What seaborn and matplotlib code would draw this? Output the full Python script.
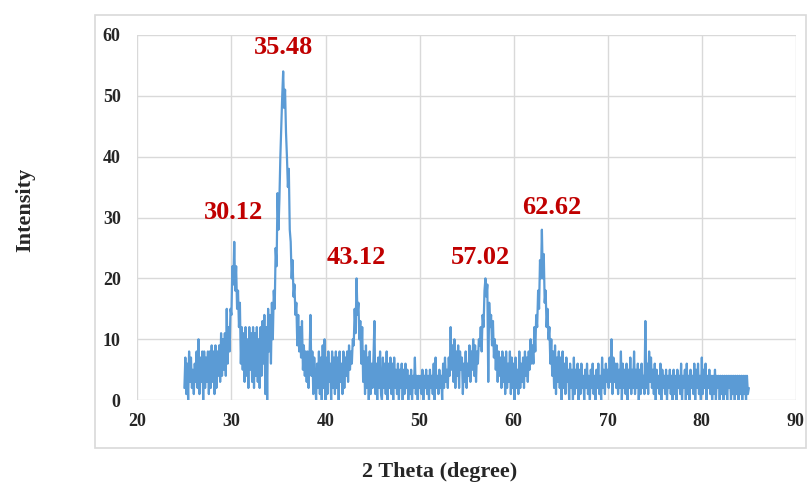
import numpy as np
import matplotlib
matplotlib.use("Agg")
import matplotlib.pyplot as plt
import seaborn as sns
from matplotlib.patches import Rectangle

# 2-theta sampling grid (degrees) and intensities
theta_start, theta_step, n_points = 25.0, 0.1, 601
intensity = [
    2, 7, 1, 6, 0, 8, 3, 7, 2, 5,          # 25
    1, 6, 3, 8, 2, 10, 1, 7, 3, 8,         # 26
    0, 8, 2, 7, 3, 8, 1, 8, 2, 9,          # 27
    3, 8, 1, 9, 2, 8, 4, 9, 3, 11,         # 28
    4, 10, 5, 11, 4, 15, 6, 12, 8, 15,     # 29
    14, 22, 19, 26, 18, 22, 15, 18, 12, 16,  # 30
    6, 12, 5, 11, 3, 12, 4, 10, 2, 12,     # 31
    5, 11, 3, 12, 2, 11, 4, 12, 3, 10,     # 32
    2, 12, 4, 13, 6, 14, 1, 12, 0, 15,     # 33
    8, 14, 6, 16, 10, 18, 15, 25, 22, 34,  # 34
    28, 33, 40, 45, 50, 54, 48, 51, 44, 40,  # 35
    35, 38, 28, 26, 20, 23, 17, 19, 14, 16,  # 36
    9, 14, 8, 12, 7, 13, 5, 9, 4, 8,       # 37
    3, 8, 2, 7, 14, 4, 8, 1, 7, 3,         # 38
    0, 6, 2, 8, 1, 7, 0, 9, 2, 10,         # 39
    0, 7, 1, 8, 3, 6, 0, 8, 2, 7,          # 40
    1, 8, 2, 7, 0, 8, 3, 6, 1, 8,          # 41
    2, 7, 4, 8, 3, 9, 5, 8, 6, 10,         # 42
    9, 15, 11, 20, 14, 16, 10, 13, 6, 12,  # 43
    3, 8, 1, 9, 2, 7, 0, 8, 1, 6,          # 44
    2, 7, 13, 1, 6, 0, 7, 2, 8, 1,         # 45
    0, 7, 2, 6, 1, 8, 0, 6, 2, 7,          # 46
    1, 6, 0, 7, 2, 5, 1, 6, 0, 5,          # 47
    2, 6, 0, 5, 1, 6, 2, 5, 0, 4,          # 48
    1, 5, 0, 4, 2, 7, 1, 4, 0, 4,          # 49
    2, 4, 1, 5, 0, 4, 2, 5, 1, 4,          # 50
    0, 5, 2, 4, 1, 6, 0, 7, 2, 4,          # 51
    1, 5, 2, 4, 0, 6, 2, 7, 3, 5,          # 52
    2, 7, 4, 12, 5, 9, 3, 10, 2, 8,        # 53
    4, 9, 2, 8, 5, 7, 1, 6, 3, 8,          # 54
    2, 6, 4, 9, 3, 8, 5, 10, 4, 9,         # 55
    3, 8, 6, 10, 9, 12, 8, 14, 12, 18,     # 56
    20, 17, 19, 3, 16, 12, 14, 9, 13, 7,   # 57
    10, 5, 9, 3, 8, 4, 7, 2, 8, 3,         # 58
    7, 1, 8, 2, 6, 3, 8, 1, 7, 2,          # 59
    6, 0, 7, 2, 5, 1, 8, 2, 6, 3,          # 60
    7, 2, 8, 4, 7, 3, 8, 5, 10, 6,         # 61
    9, 6, 12, 8, 14, 12, 18, 15, 23, 20,   # 62
    28, 20, 24, 16, 18, 12, 15, 10, 12, 6,  # 63
    10, 4, 8, 2, 9, 1, 7, 3, 8, 2,         # 64
    7, 0, 8, 2, 6, 1, 7, 3, 5, 0,          # 65
    6, 2, 5, 0, 7, 1, 5, 2, 6, 0,          # 66
    5, 1, 6, 2, 4, 0, 5, 2, 6, 1,          # 67
    4, 0, 5, 2, 6, 1, 4, 0, 5, 2,          # 68
    6, 1, 4, 0, 7, 2, 5, 1, 6, 3,          # 69
    5, 2, 7, 3, 10, 1, 7, 3, 6, 2,         # 70
    6, 1, 5, 2, 8, 0, 6, 2, 5, 1,          # 71
    6, 0, 5, 2, 7, 1, 5, 2, 8, 1,          # 72
    5, 2, 6, 0, 5, 1, 6, 2, 4, 1,          # 73
    13, 2, 6, 1, 8, 3, 7, 2, 5, 1,         # 74
    6, 0, 5, 2, 4, 1, 6, 0, 5, 2,          # 75
    4, 1, 5, 0, 4, 2, 5, 1, 4, 0,          # 76
    5, 1, 4, 0, 5, 2, 4, 1, 6, 0,          # 77
    4, 2, 5, 0, 6, 1, 4, 0, 5, 2,          # 78
    4, 1, 6, 0, 5, 2, 6, 1, 4, 0,          # 79
    7, 1, 5, 2, 6, 0, 4, 2, 5, 1,          # 80
    4, 0, 4, 1, 5, 0, 4, 2, 4, 0,          # 81
    4, 1, 4, 0, 4, 1, 4, 0, 4, 2,          # 82
    4, 0, 4, 1, 4, 0, 4, 1, 4, 0,          # 83
    4, 1, 4, 0, 4, 1, 4, 0, 4, 1,          # 84
    2,                                     # 85
]
theta = np.round(theta_start + theta_step * np.arange(n_points), 2)

peak_labels = ["30.12", "35.48", "43.12", "57.02", "62.62"]
label_x = [30.2, 35.5, 43.3, 56.5, 64.0]
label_y = [30.9, 57.9, 23.4, 23.4, 31.6]

x_ticks = [20, 30, 40, 50, 60, 70, 80, 90]
y_ticks = [0, 10, 20, 30, 40, 50, 60]

sns.set_theme(style="white")
plt.rcParams["font.family"] = ["Liberation Serif", "DejaVu Serif"]

fig = plt.figure(figsize=(8.08, 4.91), dpi=100)
ax = fig.add_axes([0.170, 0.185, 0.815, 0.744])

# outer chart frame
fig.patches.append(Rectangle((95 / 808, 1 - 448 / 491), (806 - 95) / 808, (448 - 15) / 491,
                             transform=fig.transFigure, fill=False,
                             edgecolor="#D9D9D9", linewidth=1.2))

sns.lineplot(x=theta, y=intensity, ax=ax, color="#5B9BD5", linewidth=1.6,
             estimator=None, sort=False)

ax.set_xlim(20, 90)
ax.set_ylim(0, 60)
ax.set_xticks(x_ticks)
ax.set_yticks(y_ticks)
ax.set_xticklabels([str(t) for t in x_ticks], fontsize=13, fontweight="bold")
ax.set_yticklabels([str(t) for t in y_ticks], fontsize=13, fontweight="bold")
ax.tick_params(axis="x", pad=9, length=0)
ax.tick_params(axis="y", pad=12, length=0)
ax.grid(True, color="#D9D9D9", linewidth=1.0)
ax.set_axisbelow(True)
for s in ax.spines.values():
    s.set_visible(False)

for lab, lx, ly in zip(peak_labels, label_x, label_y):
    ax.text(lx, ly, lab, color="#C00000", fontsize=19, fontweight="bold",
            ha="center", va="center")

ax.set_xlabel("")
ax.set_ylabel("")
fig.text(440 / 808, 1 - 472 / 491, "2 Theta (degree)", fontsize=16, fontweight="bold",
         ha="center", va="center")
fig.text(25 / 808, 1 - 210 / 491, "Intensity", fontsize=16, fontweight="bold",
         ha="center", va="center", rotation=90)

fig.savefig("out.png", dpi=100, facecolor="white")
